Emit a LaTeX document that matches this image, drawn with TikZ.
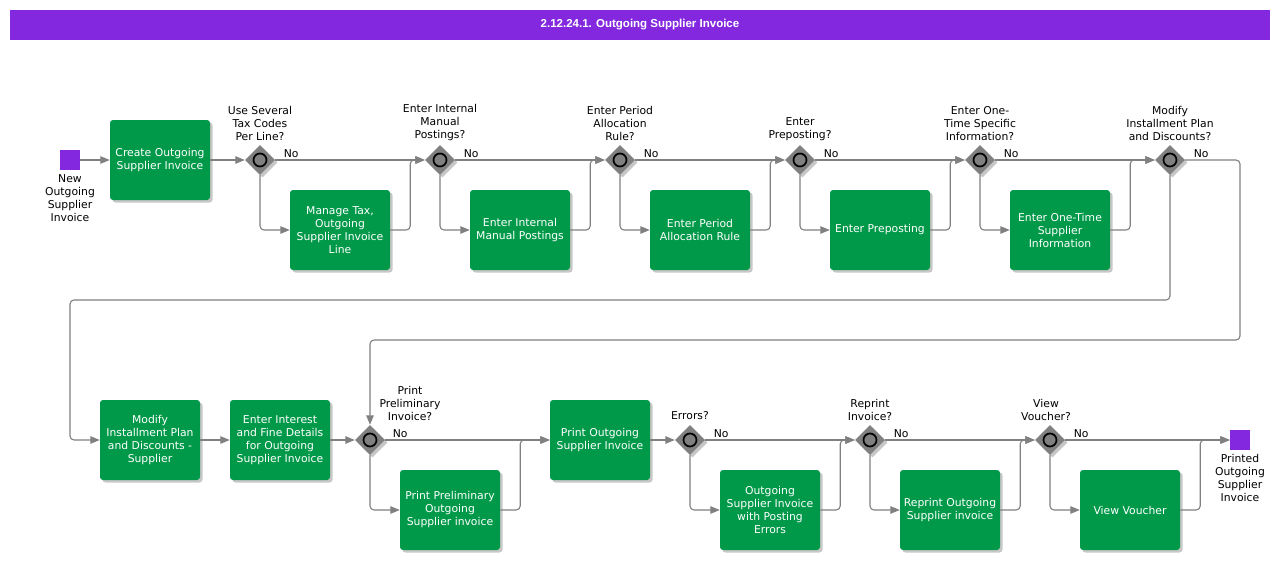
\documentclass[tikz,border=0pt]{standalone}
\usepackage{fontspec}
\setmainfont{DejaVu Sans}
\newfontfamily\titlefont{Liberation Sans}
\usetikzlibrary{positioning,shapes.geometric,arrows.meta,shadows}

\definecolor{flowpurple}{RGB}{132,40,224}
\definecolor{taskgreen}{RGB}{0,153,73}
\definecolor{gategray}{RGB}{128,128,128}
\definecolor{linegray}{RGB}{128,128,128}

\tikzset{
  softshadow/.style={drop shadow={shadow xshift=2.5pt, shadow yshift=-2.5pt, fill=black, opacity=0.22}},
  task/.style={rectangle, rounded corners=3pt, fill=taskgreen, text=white, minimum width=100pt,
    minimum height=80pt, align=center, inner sep=2pt, softshadow},
  gate/.style={diamond, fill=gategray, minimum size=30pt, inner sep=0pt, softshadow},
  ring/.style={draw=black, line width=1.7pt, fill=gategray},
  ev/.style={rectangle, fill=flowpurple, minimum size=20pt, inner sep=0pt},
  qlbl/.style={align=center, inner sep=0pt},
  nolbl/.style={anchor=south west, inner sep=0pt, xshift=8pt, yshift=2pt},
  flow/.style={draw=linegray, line width=1.1pt, rounded corners=4pt,
    -{Triangle[length=9.5pt,width=7.5pt,fill=linegray]}}
}

\begin{document}
\begin{tikzpicture}[x=1pt, y=-1pt, font=\fontsize{10.8}{13}\selectfont]
\useasboundingbox (0,0) rectangle (1280,560);

% title bar
\node[fill=flowpurple, text=white, minimum width=1260pt, minimum height=30pt, inner sep=0pt,
  font=\titlefont\bfseries\fontsize{11.5}{13}\selectfont] (title) at (640,25) {2.12.24.1. Outgoing Supplier Invoice};

% first row
\node[ev] (newinv) at (70,160) {};
\node[qlbl, below=4pt of newinv] {New\\Outgoing\\Supplier\\Invoice};
\node[task] (create) at (160,160) {Create Outgoing\\Supplier Invoice};

\node[gate] (qtax) at (260,160) {};
\node[qlbl, above=4pt of qtax] {Use Several\\Tax Codes\\Per Line?};
\node[task] (tax) at (340,230) {Manage Tax,\\Outgoing\\Supplier Invoice\\Line};

\node[gate] (qman) at (440,160) {};
\node[qlbl, above=4pt of qman] {Enter Internal\\Manual\\Postings?};
\node[task] (manual) at (520,230) {Enter Internal\\Manual Postings};

\node[gate] (qper) at (620,160) {};
\node[qlbl, above=4pt of qper] {Enter Period\\Allocation\\Rule?};
\node[task] (period) at (700,230) {Enter Period\\Allocation Rule};

\node[gate] (qpre) at (800,160) {};
\node[qlbl, above=4pt of qpre] {Enter\\Preposting?};
\node[task] (prepost) at (880,230) {Enter Preposting};

\node[gate] (qone) at (980,160) {};
\node[qlbl, above=4pt of qone] {Enter One-\\Time Specific\\Information?};
\node[task] (onetime) at (1060,230) {Enter One-Time\\Supplier\\Information};

\node[gate] (qinst) at (1170,160) {};
\node[qlbl, above=4pt of qinst] {Modify\\Installment Plan\\and Discounts?};

% second row
\node[task] (instal) at (150,440) {Modify\\Installment Plan\\and Discounts -\\Supplier};
\node[task] (interest) at (280,440) {Enter Interest\\and Fine Details\\for Outgoing\\Supplier Invoice};

\node[gate] (qprel) at (370,440) {};
\node[qlbl, anchor=south] at ([xshift=40pt, yshift=4pt]qprel.north) {Print\\Preliminary\\Invoice?};
\node[task] (prelim) at (450,510) {Print Preliminary\\Outgoing\\Supplier invoice};
\node[task] (print) at (600,440) {Print Outgoing\\Supplier Invoice};

\node[gate] (qerr) at (690,440) {};
\node[qlbl, above=5pt of qerr] {Errors?};
\node[task] (errors) at (770,510) {Outgoing\\Supplier Invoice\\with Posting\\Errors};

\node[gate] (qrep) at (870,440) {};
\node[qlbl, above=4pt of qrep] {Reprint\\Invoice?};
\node[task] (reprint) at (950,510) {Reprint Outgoing\\Supplier invoice};

\node[gate] (qvou) at (1050,440) {};
\node[qlbl, above=4pt of qvou, xshift=-4pt] {View\\Voucher?};
\node[task] (voucher) at (1130,510) {View Voucher};

\node[ev] (printed) at (1240,440) {};
\node[qlbl, below=4pt of printed] {Printed\\Outgoing\\Supplier\\Invoice};

% gateway rings
\foreach \g in {qtax,qman,qper,qpre,qone,qinst,qprel,qerr,qrep,qvou}
  \draw[ring] (\g) circle (6.5pt);

% bends of the long connectors
\coordinate (wrapr) at (1240,340);
\coordinate (wrapl) at (70,300);

% flows, first row
\draw[flow] (newinv) -- (create);
\draw[flow] (create) -- (qtax);
\draw[flow] (qtax.east) node[nolbl] {No} -- (qman.west);
\draw[flow] (qtax.south) |- (tax.west);
\draw[flow] (tax.east) -- ++(20,0) |- (qman.west);
\draw[flow] (qman.east) node[nolbl] {No} -- (qper.west);
\draw[flow] (qman.south) |- (manual.west);
\draw[flow] (manual.east) -- ++(20,0) |- (qper.west);
\draw[flow] (qper.east) node[nolbl] {No} -- (qpre.west);
\draw[flow] (qper.south) |- (period.west);
\draw[flow] (period.east) -- ++(20,0) |- (qpre.west);
\draw[flow] (qpre.east) node[nolbl] {No} -- (qone.west);
\draw[flow] (qpre.south) |- (prepost.west);
\draw[flow] (prepost.east) -- ++(20,0) |- (qone.west);
\draw[flow] (qone.east) node[nolbl] {No} -- (qinst.west);
\draw[flow] (qone.south) |- (onetime.west);
\draw[flow] (onetime.east) -- ++(20,0) |- (qinst.west);

% flows into the second row
\draw[flow] (qinst.east) node[nolbl] {No} -| (wrapr) -| (qprel.north);
\draw[flow] (qinst.south) |- (wrapl) |- (instal.west);

% flows, second row
\draw[flow] (instal) -- (interest);
\draw[flow] (interest) -- (qprel);
\draw[flow] (qprel.east) node[nolbl, xshift=-1pt] {No} -- (print.west);
\draw[flow] (qprel.south) |- (prelim.west);
\draw[flow] (prelim.east) -- ++(20,0) |- (print.west);
\draw[flow] (print) -- (qerr);
\draw[flow] (qerr.east) node[nolbl] {No} -- (qrep.west);
\draw[flow] (qerr.south) |- (errors.west);
\draw[flow] (errors.east) -- ++(20,0) |- (qrep.west);
\draw[flow] (qrep.east) node[nolbl] {No} -- (qvou.west);
\draw[flow] (qrep.south) |- (reprint.west);
\draw[flow] (reprint.east) -- ++(20,0) |- (qvou.west);
\draw[flow] (qvou.east) node[nolbl] {No} -- (printed.west);
\draw[flow] (qvou.south) |- (voucher.west);
\draw[flow] (voucher.east) -- ++(20,0) |- (printed.west);

\end{tikzpicture}
\end{document}
